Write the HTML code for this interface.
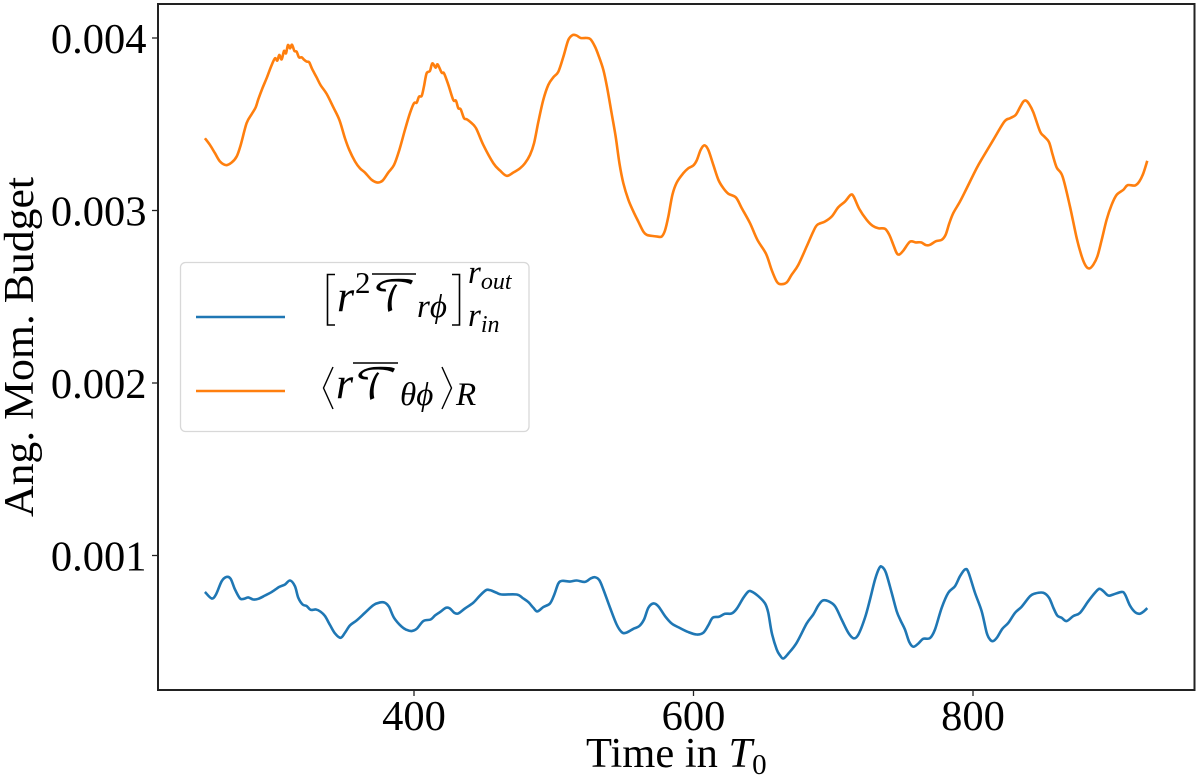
<!DOCTYPE html>
<html>
<head>
<meta charset="utf-8">
<title>Angular momentum budget over time</title>
<style>
html,body{margin:0;padding:0;background:#fff;}
svg{display:block;font-family:"Liberation Serif",serif;}
</style>
</head>
<body>
<svg id="chart" xmlns="http://www.w3.org/2000/svg" width="1200" height="777" viewBox="0 0 1200 777">
  <rect x="158" y="4" width="1036.5" height="686" fill="none" stroke="#222" stroke-width="2"/>
  <g id="ticks"></g>
  <g id="series"></g>
  <text x="586" y="767" font-size="42.5">Time in <tspan font-style="italic">T</tspan><tspan font-size="29" dy="7">0</tspan></text>
  <text transform="translate(33,517) rotate(-90)" font-size="42" textLength="340" lengthAdjust="spacingAndGlyphs">Ang. Mom. Budget</text>
  <g>
    <rect x="180.5" y="262.5" width="348.5" height="169" rx="5" fill="#fff" fill-opacity="0.8" stroke="#d8d8d8" stroke-width="1.3"/>
    <line x1="196" x2="285" y1="317" y2="317" stroke="#1f77b4" stroke-width="2.6"/>
    <line x1="196" x2="285" y1="391" y2="391" stroke="#ff7f0e" stroke-width="2.6"/>
    <g font-style="italic">
      <path d="M335 274.5H327.5V325H335" fill="none" stroke="#000" stroke-width="1.6"/>
      <text x="337" y="311" font-size="44">r</text>
      <text x="355" y="293" font-size="31" font-style="normal">2</text>
      <line x1="372" x2="416" y1="274" y2="274" stroke="#000" stroke-width="1.6"/>
      <text x="373" y="311" font-size="42" font-style="normal" font-family="'DejaVu Math TeX Gyre','DejaVu Serif','Liberation Serif',serif">𝒯</text>
      <text x="417" y="317" font-size="33">rϕ</text>
      <path d="M452 274.5H459.5V325H452" fill="none" stroke="#000" stroke-width="1.6"/>
      <text x="468" y="283" font-size="33">r<tspan font-size="24" dy="6">out</tspan></text>
      <text x="468" y="326" font-size="33">r<tspan font-size="24" dy="6">in</tspan></text>
    </g>
    <g font-style="italic">
      <path d="M333 367L323.5 388L333 409" fill="none" stroke="#000" stroke-width="1.4"/>
      <text x="336" y="398" font-size="44">r</text>
      <line x1="353" x2="398" y1="363" y2="363" stroke="#000" stroke-width="1.6"/>
      <text x="355" y="399" font-size="42" font-style="normal" font-family="'DejaVu Math TeX Gyre','DejaVu Serif','Liberation Serif',serif">𝒯</text>
      <text x="400" y="405" font-size="33">θϕ</text>
      <path d="M442 367L451.5 388L442 409" fill="none" stroke="#000" stroke-width="1.4"/>
      <text x="456" y="405" font-size="33">R</text>
    </g>
  </g>
</svg>
<script>
const xTickValues = [400, 600, 800];
const yTickValues = [0.001, 0.002, 0.003, 0.004];
const yTickLabels = ["0.001", "0.002", "0.003", "0.004"];

const radialTime = [250.4,255.2,258.3,262.4,265.9,268.8,271.9,275.5,278.3,281.4,285,288.6,293.4,298.1,303.6,307.7,311.3,314.8,317.2,320.3,323.2,326,329.9,333.2,336.3,339.9,343.5,347.5,350.6,354.2,359,364.9,370.9,375.7,379.2,382.1,385.7,391.2,394.7,398.3,401.9,406.7,411.9,415,418.6,422.9,425.7,428.8,431.7,436.5,442.4,447.2,451.5,454.4,459.1,462.7,473.5,478.2,481.8,485.4,488.3,492.5,497.3,500.4,503.3,506.1,511.6,516.4,522.4,526.4,529.5,532.6,535.5,540.3,545,548.6,551.7,557,561.2,564.6,567.7,571.3,574.8,579.6,584.4,590.4,596.3,602.3,607,610.6,613.7,618.2,622.5,627.3,630.9,635.7,639.2,641.6,646.4,651.2,653.5,656,659.5,661.9,664.3,667.9,673.8,681,685.7,689.3,692.4,696.5,701.3,706,710.8,714.6,718,722.7,726.3,729.9,733,734.9,737.7,741.8,745.4,748.2,751.3,754.4,757.3,760.9,764.4,769.2,772.8,777.6,782.3,787.1,790.7,794.3,796.7,801.4,806.2,809.8,812.2,814.5,817.4,821,825.3,830.1,834.8,840.8,844.4,850.3,854.4,857.5,860.3,863.4,867,871.8,876.6,882.5,887.3,890.4,893.3,896.8,900.4,906.4,908.8,912.3,915.9,919,921.9,924.7];
const radialBudget = [0.789,0.751,0.774,0.851,0.876,0.865,0.803,0.751,0.749,0.757,0.745,0.749,0.768,0.788,0.818,0.832,0.855,0.822,0.755,0.716,0.707,0.685,0.687,0.674,0.649,0.597,0.548,0.523,0.552,0.595,0.624,0.668,0.712,0.728,0.726,0.703,0.639,0.587,0.569,0.562,0.575,0.620,0.629,0.652,0.672,0.697,0.693,0.668,0.664,0.693,0.726,0.768,0.799,0.799,0.784,0.774,0.774,0.751,0.730,0.697,0.676,0.701,0.722,0.774,0.838,0.853,0.849,0.855,0.847,0.867,0.874,0.857,0.803,0.697,0.600,0.556,0.552,0.575,0.591,0.629,0.697,0.722,0.706,0.649,0.606,0.579,0.556,0.542,0.552,0.595,0.639,0.645,0.662,0.664,0.691,0.755,0.791,0.791,0.764,0.722,0.668,0.552,0.456,0.421,0.403,0.432,0.494,0.606,0.658,0.710,0.739,0.735,0.706,0.629,0.552,0.520,0.542,0.639,0.745,0.861,0.928,0.934,0.900,0.784,0.677,0.623,0.571,0.498,0.471,0.490,0.517,0.521,0.571,0.697,0.784,0.822,0.880,0.919,0.903,0.784,0.677,0.552,0.513,0.504,0.527,0.575,0.610,0.668,0.703,0.764,0.780,0.784,0.755,0.697,0.652,0.639,0.620,0.649,0.668,0.735,0.784,0.807,0.793,0.768,0.774,0.789,0.774,0.710,0.672,0.662,0.674,0.695];

const polarTime = [250.4,254,257.6,261.2,265.5,269.5,273.1,276,280.2,283.8,286.7,288.6,291.5,294.8,297.7,300.5,302.2,303.6,305.3,307,308.4,309.8,311.3,312.7,314.4,316,317.7,319.6,321.5,323.2,325,327.2,330.3,333.2,337.5,342.3,346.6,350.6,353.7,357.8,361.3,364.9,369.7,374,377.6,381.6,385.7,389.5,393.5,397.1,400,401.9,403.6,405.5,407.1,409,411.4,413.1,415.5,416.9,419.8,421.5,424.6,428.1,430,431.7,433.4,435.8,437.7,440.5,444.4,449.6,456.8,461.5,466.3,471.1,475.9,479.4,483,485.9,489,492.5,496.1,499.7,503.3,506.9,510.4,513.5,516.4,519.3,523.6,526.4,529.5,531.9,535.5,538.3,541.4,544.3,547,549.8,553.4,557,560.5,564.1,566.5,570.1,574.1,577.2,579.6,582,584.9,588,592.7,596.3,599.9,602.3,605.1,607.8,610.6,614.2,617.8,621.4,625,630.4,634.5,640.4,645.7,651.9,655.9,659.5,662.4,666.7,670.2,675,681,685.7,688.6,694.1,698.9,703.6,708.4,712.5,714.6,718.7,723.9,728.2,732.3,737,740.1,743,745.4,747.3,750.1,754.9,759,762.8,766.4,769.2,773.5,777.6,780.4,783.1,785.9,790.7,795.5,802.6,807.4,814.5,822.4,826.5,830.5,833.6,836,837.9,840.1,843.2,848,851,854.4,857,859.9,864.1,869.4,874.2,877.8,880.6,883.2,886.1,889,892.1,895.6,899.2,902.8,907.6,910.7,916,919,921.9,924.7];
const polarBudget = [3.419,3.380,3.332,3.284,3.263,3.278,3.313,3.380,3.506,3.558,3.598,3.645,3.708,3.772,3.834,3.882,3.869,3.902,3.876,3.925,3.911,3.959,3.940,3.961,3.925,3.921,3.888,3.888,3.873,3.863,3.859,3.819,3.772,3.726,3.676,3.598,3.525,3.419,3.351,3.284,3.245,3.220,3.178,3.162,3.174,3.220,3.264,3.351,3.467,3.564,3.622,3.625,3.660,3.664,3.718,3.795,3.809,3.853,3.828,3.847,3.799,3.795,3.728,3.641,3.637,3.593,3.587,3.535,3.529,3.512,3.477,3.380,3.274,3.232,3.201,3.220,3.245,3.274,3.322,3.390,3.515,3.641,3.728,3.772,3.805,3.892,3.988,4.017,4.014,4.000,4.000,3.992,3.950,3.902,3.815,3.708,3.564,3.429,3.274,3.158,3.062,2.994,2.936,2.878,2.859,2.853,2.849,2.849,2.884,2.965,3.091,3.162,3.216,3.245,3.261,3.290,3.351,3.378,3.351,3.264,3.178,3.129,3.097,3.075,3.014,2.927,2.830,2.749,2.656,2.589,2.573,2.583,2.627,2.685,2.792,2.878,2.917,2.936,2.965,3.019,3.052,3.091,3.081,3.008,2.946,2.911,2.897,2.894,2.859,2.801,2.753,2.745,2.767,2.819,2.815,2.815,2.799,2.801,2.822,2.830,2.859,2.927,2.985,3.052,3.129,3.245,3.313,3.409,3.515,3.535,3.554,3.598,3.631,3.637,3.618,3.569,3.458,3.429,3.396,3.323,3.249,3.197,3.023,2.840,2.734,2.680,2.664,2.686,2.734,2.830,2.946,3.033,3.091,3.120,3.147,3.145,3.168,3.216,3.288];

const NS = 'http://www.w3.org/2000/svg';
const xScale = t => 414 + (t - 400) * 1.3975;
const yScale = v => 38 + (0.004 - v) * 172500;

const ticksGroup = document.getElementById('ticks');
function makeNode(tag, attrs, text) {
  const el = document.createElementNS(NS, tag);
  for (const k in attrs) el.setAttribute(k, attrs[k]);
  if (text) el.textContent = text;
  return el;
}
xTickValues.forEach(function (t) {
  const mark = makeNode('line', {x1: xScale(t), x2: xScale(t), y1: 690, y2: 696, stroke: '#222', 'stroke-width': 1.3});
  
  
  ticksGroup.appendChild(mark);
  const label = makeNode('text', {x: xScale(t), y: 730, 'font-size': 42.5, 'text-anchor': 'middle'}, String(t));
  
  
  ticksGroup.appendChild(label);
});
yTickValues.forEach(function (v, i) {
  const mark = makeNode('line', {x1: 152, x2: 158, y1: yScale(v), y2: yScale(v), stroke: '#222', 'stroke-width': 1.3});
  
  
  ticksGroup.appendChild(mark);
  const label = makeNode('text', {x: 146.5, y: yScale(v) + 15, 'font-size': 42.5, 'text-anchor': 'end'}, yTickLabels[i]);
  
  
  ticksGroup.appendChild(label);
});

function smoothPath(times, values) {
  const pts = times.map((t, i) => [xScale(t), yScale(values[i] / 1000)]);
  let d = 'M' + pts[0][0].toFixed(2) + ' ' + pts[0][1].toFixed(2);
  for (let i = 0; i < pts.length - 1; i++) {
    const p0 = pts[Math.max(i - 1, 0)], p1 = pts[i], p2 = pts[i + 1], p3 = pts[Math.min(i + 2, pts.length - 1)];
    const c1x = p1[0] + (p2[0] - p0[0]) / 6, c1y = p1[1] + (p2[1] - p0[1]) / 6;
    const c2x = p2[0] - (p3[0] - p1[0]) / 6, c2y = p2[1] - (p3[1] - p1[1]) / 6;
    d += 'C' + c1x.toFixed(2) + ' ' + c1y.toFixed(2) + ' ' + c2x.toFixed(2) + ' ' + c2y.toFixed(2) + ' ' + p2[0].toFixed(2) + ' ' + p2[1].toFixed(2);
  }
  return d;
}
const seriesGroup = document.getElementById('series');
const radialLine = makeNode('path', {d: smoothPath(radialTime, radialBudget), fill: 'none', stroke: '#1f77b4', 'stroke-width': 2.6, 'stroke-linejoin': 'round'});


seriesGroup.appendChild(radialLine);
const polarLine = makeNode('path', {d: smoothPath(polarTime, polarBudget), fill: 'none', stroke: '#ff7f0e', 'stroke-width': 2.6, 'stroke-linejoin': 'round'});


seriesGroup.appendChild(polarLine);
</script>
</body>
</html>
